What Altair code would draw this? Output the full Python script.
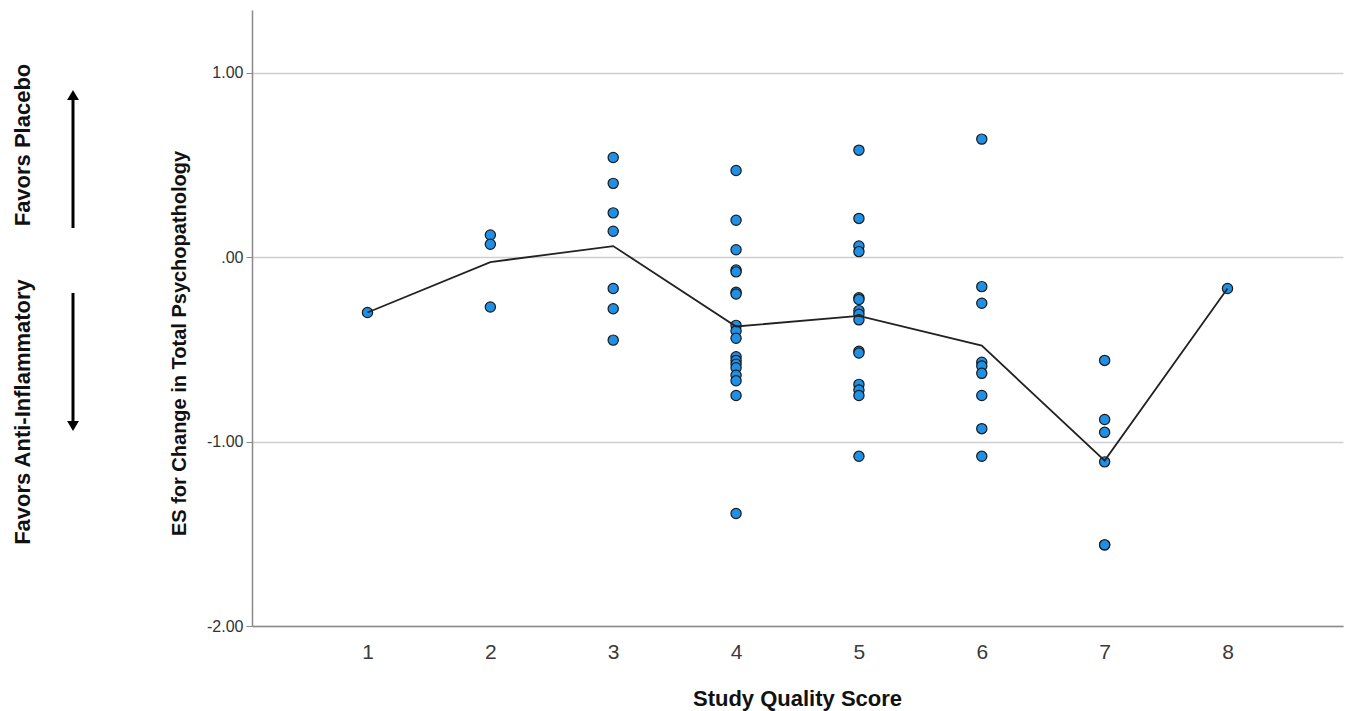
import altair as alt
import pandas as pd

# ---- data ----
score_1 = [-0.30]
score_2 = [0.12, 0.07, -0.27]
score_3 = [0.54, 0.40, 0.24, 0.14, -0.17, -0.28, -0.45]
score_4 = [0.47, 0.20, 0.04, -0.07, -0.08, -0.19, -0.20, -0.37, -0.40, -0.44,
           -0.54, -0.56, -0.58, -0.60, -0.64, -0.67, -0.75, -1.39]
score_5 = [0.58, 0.21, 0.06, 0.03, -0.22, -0.23, -0.29, -0.31, -0.34, -0.51,
           -0.52, -0.69, -0.72, -0.75, -1.08]
score_6 = [0.64, -0.16, -0.25, -0.57, -0.59, -0.63, -0.75, -0.93, -1.08]
score_7 = [-0.56, -0.88, -0.95, -1.11, -1.56, -1.56]
score_8 = [-0.17]

scores = [1, 2, 3, 4, 5, 6, 7, 8]
es_by_score = [score_1, score_2, score_3, score_4, score_5, score_6, score_7, score_8]

y_tick_values = [1, 0, -1, -2]
y_tick_labels = ["1.00", ".00", "-1.00", "-2.00"]

x_title = "Study Quality Score"
y_title = "ES for Change in Total Psychopathology"
note_up = "Favors Placebo"
note_down = "Favors Anti-Inflammatory"

rows = []
for s, vals in zip(scores, es_by_score):
    for v in vals:
        rows.append({"score": s, "es": v})
df = pd.DataFrame(rows)

label_expr = ""
for v, lab in zip(y_tick_values, y_tick_labels):
    label_expr += f"datum.value == {v} ? '{lab}' : "
label_expr += "''"

FONT = "Liberation Sans, Arial, sans-serif"
W, H = 1091, 616

x_enc = alt.X(
    "score:Q",
    scale=alt.Scale(domain=[0.06, 8.94], nice=False, zero=False),
    axis=alt.Axis(
        values=scores, format="d", grid=False, ticks=False, tickSize=0,
        labelFontSize=21, labelColor="#3a3a3a", labelFont=FONT, labelPadding=15,
        domainColor="#8a8a8a", domainWidth=1.5,
        title=x_title, titleFont=FONT, titleFontSize=22, titleFontWeight="bold",
        titleColor="#111111", titleX=545, titleY=79, titleBaseline="alphabetic",
        titleAlign="center",
    ),
)
y_enc = alt.Y(
    "es:Q",
    scale=alt.Scale(domain=[-2, 1.34], nice=False, zero=False),
    axis=alt.Axis(
        values=y_tick_values, labelExpr=label_expr, grid=True,
        gridColor="#cfcfcf", gridWidth=1.5,
        tickSize=6, tickColor="#8a8a8a", labelPadding=3,
        labelFontSize=16, labelColor="#333333", labelFont=FONT,
        domainColor="#8a8a8a", domainWidth=1.5,
        title=y_title, titleFont=FONT, titleFontSize=20, titleFontWeight="bold",
        titleColor="#111111", titleX=-73, titleY=333, titleAngle=270,
        titleBaseline="middle", titleAlign="center",
    ),
)

points = alt.Chart(df).mark_point(
    filled=True, shape="circle", size=105, fill="#1e90e6",
    stroke="#1a1a1a", strokeWidth=1.2, opacity=1,
).encode(x=x_enc, y=y_enc)

mean_line = alt.Chart(df).mark_line(color="#222222", strokeWidth=1.8).encode(
    x=alt.X("score:Q"), y=alt.Y("mean(es):Q")
)

one = pd.DataFrame({"k": [0]})
ann_font = dict(font=FONT, fontSize=22, fontWeight="bold", color="#111111",
                angle=270, align="center", baseline="middle")
txt_up = alt.Chart(one).mark_text(text=note_up, **ann_font).encode(
    x=alt.value(-229), y=alt.value(135))
txt_down = alt.Chart(one).mark_text(text=note_down, **ann_font).encode(
    x=alt.value(-229), y=alt.value(402))

arrow_up_line = alt.Chart(one).mark_rule(color="#000000", strokeWidth=3).encode(
    x=alt.value(-179), y=alt.value(88), y2=alt.value(218))
arrow_up_head = alt.Chart(one).mark_point(
    shape="triangle-up", filled=True, size=140, color="#000000", opacity=1
).encode(x=alt.value(-179), y=alt.value(85))
arrow_dn_line = alt.Chart(one).mark_rule(color="#000000", strokeWidth=3).encode(
    x=alt.value(-179), y=alt.value(283), y2=alt.value(413))
arrow_dn_head = alt.Chart(one).mark_point(
    shape="triangle-down", filled=True, size=140, color="#000000", opacity=1
).encode(x=alt.value(-179), y=alt.value(416))

chart = alt.layer(
    points, mean_line, txt_up, txt_down,
    arrow_up_line, arrow_up_head, arrow_dn_line, arrow_dn_head,
).properties(
    width=W, height=H,
    autosize=alt.AutoSizeParams(type="none"),
    padding={"left": 244, "top": 2, "right": 2, "bottom": 86},
    background="#ffffff",
).configure_view(stroke=None)

chart.save("out.html", embed_options={"renderer": "svg", "actions": False})
